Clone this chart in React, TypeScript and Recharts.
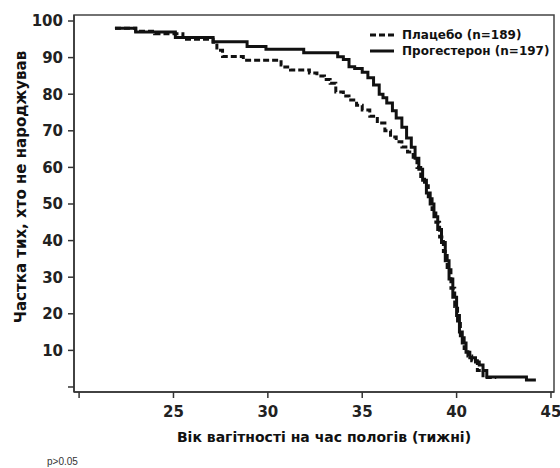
import { LineChart, Line, XAxis, YAxis, Legend, Label, ReferenceArea } from "recharts";

// Kaplan-Meier: share not yet delivered (%) by gestational week
const placeboWeeks = [
  21.9, 23.0, 24.0, 25.5, 27.1, 27.3, 27.6, 28.7, 30.7, 30.9,
  31.2, 32.2, 32.6, 33.0, 33.3, 33.6, 34.0, 34.3, 34.7, 35.0,
  35.4, 35.8, 36.2, 36.5, 36.8, 37.1, 37.4, 37.7, 37.9, 38.1,
  38.3, 38.5, 38.7, 38.9, 39.1, 39.3, 39.5, 39.7, 39.9, 40.05,
  40.2, 40.4, 40.6, 40.8, 41.1, 41.4, 42.1,
];
const placeboPct = [
  98, 97.2, 96.5, 95, 94.2, 92, 90.3, 89.3, 88, 87.4,
  86.6, 85.8, 85, 84, 83, 80.6, 79.5, 78.4, 77, 75.7,
  74, 72.1, 70, 68.3, 67, 65.6, 64.2, 62.8, 60, 57.5,
  55, 52, 48.5, 45, 41, 37, 32, 27, 22, 18,
  14, 10.5, 8.5, 7.2, 4.5, 2.6, 2.6,
];

const progWeeks = [
  21.9, 23.0, 25.1, 27.1, 28.9, 29.9, 31.9, 33.7, 34.0, 34.3,
  34.6, 35.0, 35.3, 35.6, 35.9, 36.1, 36.3, 36.6, 36.8, 37.1,
  37.35, 37.6, 37.8, 38.0, 38.2, 38.4, 38.6, 38.8, 39.0, 39.2,
  39.4, 39.6, 39.8, 40.0, 40.15, 40.3, 40.5, 40.7, 41.0, 41.2,
  41.4, 41.6, 43.7, 44.2,
];
const progPct = [
  98, 97, 95.5, 94.3, 93, 92.3, 91.3, 90.2, 89.5, 87.5,
  87, 86, 84.5, 82.5, 80, 79, 77.6, 75.5, 73.5, 71,
  68, 65.5, 62.5, 59.5, 56.5, 53, 50, 46.5, 43, 39.5,
  34.5, 29.5, 24.5, 19.5, 15, 12, 9.5, 8, 6.8, 6,
  4.5, 2.7, 1.9, 1.9,
];

const xTicks = [20, 25, 30, 35, 40, 45];
const yTicks = [0, 10, 20, 30, 40, 50, 60, 70, 80, 90, 100];
const xDomain = [19.73, 45.16];
const yDomain = [-1.37, 101.64];

const legendItems = [
  { label: "Плацебо (n=189)", dash: "6 3" },
  { label: "Прогестерон (n=197)", dash: "" },
];

const FONT = "'DejaVu Sans', sans-serif";
const INK = "#111";

const placebo = placeboWeeks.map((w, i) => ({ week: w, pct: placeboPct[i] }));
const progesterone = progWeeks.map((w, i) => ({ week: w, pct: progPct[i] }));

function KmLegend() {
  return (
    <div style={{ fontFamily: FONT, fontWeight: "bold", fontSize: 12, color: INK }}>
      {legendItems.map((item) => (
        <div key={item.label} style={{ display: "flex", alignItems: "center", height: 16 }}>
          <svg width={24} height={6}>
            <line x1={0} y1={3} x2={24} y2={3} stroke={INK} strokeWidth={3} strokeDasharray={item.dash} />
          </svg>
          <span style={{ marginLeft: 8, whiteSpace: "nowrap" }}>{item.label}</span>
        </div>
      ))}
    </div>
  );
}

const tickStyle = { fill: "#222", fontSize: 15, fontWeight: "bold", fontFamily: FONT };

export default function App() {
  return (
    <div style={{ position: "absolute", left: 0, top: 0, width: 560, height: 468, background: "#fff" }}>
      <LineChart width={560} height={468} margin={{ top: 15, right: 6, bottom: 0, left: 0 }}>
        <XAxis
          type="number"
          dataKey="week"
          domain={xDomain}
          allowDataOverflow
          ticks={xTicks}
          interval={0}
          tickFormatter={(v: number) => (v === 20 ? "" : String(v))}
          tick={tickStyle}
          tickSize={6}
          tickMargin={8}
          height={76}
          axisLine={{ stroke: "#333", strokeWidth: 1.5 }}
          tickLine={{ stroke: "#333", strokeWidth: 1.5 }}
        >
          <Label
            content={() => (
              <text x={324} y={442} textAnchor="middle" fontFamily={FONT} fontWeight="bold" fontSize={14} fill={INK}>
                Вік вагітності на час пологів (тижні)
              </text>
            )}
          />
          <Label
            content={() => (
              <text x={47} y={465} fontFamily="'Liberation Sans', Arial, sans-serif" fontSize={10} fill="#333">
                p&gt;0.05
              </text>
            )}
          />
        </XAxis>
        <YAxis
          type="number"
          domain={yDomain}
          allowDataOverflow
          ticks={yTicks}
          interval={0}
          tickFormatter={(v: number) => (v === 0 ? "" : String(v))}
          tick={tickStyle}
          tickSize={6}
          tickMargin={5}
          width={74}
          axisLine={{ stroke: "#333", strokeWidth: 1.5 }}
          tickLine={{ stroke: "#333", strokeWidth: 1.5 }}
        >
          <Label
            content={() => (
              <text
                x={21}
                y={187}
                transform="rotate(-90 21 187)"
                textAnchor="middle"
                dominantBaseline="central"
                fontFamily={FONT}
                fontWeight="bold"
                fontSize={15}
                fill={INK}
              >
                Частка тих, хто не народжував
              </text>
            )}
          />
        </YAxis>
        <ReferenceArea
          x1={xDomain[0]}
          x2={xDomain[1]}
          y1={yDomain[0]}
          y2={yDomain[1]}
          fill="none"
          stroke="#444"
          strokeWidth={1.5}
          ifOverflow="extendDomain"
        />
        <Legend
          layout="vertical"
          align="center"
          verticalAlign="middle"
          content={<KmLegend />}
          wrapperStyle={{ position: "absolute", left: 370, top: 27, width: 190 }}
        />
        <Line
          data={placebo}
          type="stepAfter"
          dataKey="pct"
          stroke={INK}
          strokeWidth={3}
          strokeDasharray="6 3"
          dot={false}
          isAnimationActive={false}
        />
        <Line
          data={progesterone}
          type="stepAfter"
          dataKey="pct"
          stroke={INK}
          strokeWidth={3}
          dot={false}
          isAnimationActive={false}
        />
      </LineChart>
    </div>
  );
}
